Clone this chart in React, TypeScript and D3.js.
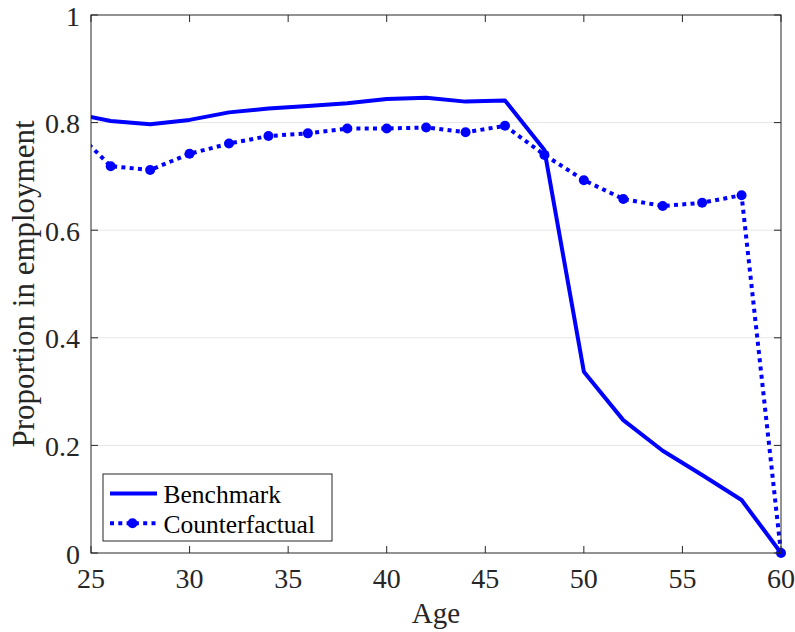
import React from 'react'
import * as d3 from 'd3'

const width = 795
const height = 632
const margin = { top: 15, right: 14, bottom: 79, left: 91 }
const blue = '#0000ff'
const font = '"Liberation Serif", "Times New Roman", serif'

// ages are every two years; the first point sits just left of the axis and is clipped
const ages = [24, 26, 28, 30, 32, 34, 36, 38, 40, 42, 44, 46, 48, 50, 52, 54, 56, 58, 60]
const benchmark = [0.818, 0.803, 0.797, 0.805, 0.819, 0.826, 0.831, 0.836, 0.844, 0.846, 0.839, 0.841,
  0.749, 0.337, 0.247, 0.19, 0.145, 0.0985, 0]
const counterfactual = [0.792, 0.719, 0.712, 0.742, 0.761, 0.775, 0.78, 0.789, 0.789, 0.791, 0.782, 0.794,
  0.74, 0.693, 0.658, 0.645, 0.651, 0.665, 0]
const xTicks = [25, 30, 35, 40, 45, 50, 55, 60]
const yTicks = [0, 0.2, 0.4, 0.6, 0.8, 1]

export default function App() {
  const w = width - margin.left - margin.right
  const h = height - margin.top - margin.bottom
  const x = d3.scaleLinear().domain([25, 60]).range([0, w])
  const y = d3.scaleLinear().domain([0, 1]).range([h, 0])
  const line = d3.line<number>().x((_, i) => x(ages[i])).y(d => y(d))
  const tick = 7

  return (
    <svg width={width} height={height} style={{ display: 'block', position: 'absolute', left: 0, top: 0 }}>
      <defs>
        <clipPath id="plot">
          <rect x={0} y={-6} width={w + 6} height={h + 12} />
        </clipPath>
      </defs>
      <rect width={width} height={height} fill="#fff" />
      <g transform={`translate(${margin.left},${margin.top})`}>
        {yTicks.filter(t => t > 0 && t < 1).map(t => (
          <line key={t} x1={0} x2={w} y1={y(t)} y2={y(t)} stroke="#e6e6e6" strokeWidth={1} />
        ))}
        <g clipPath="url(#plot)">
          <path d={line(benchmark) ?? ''} fill="none" stroke={blue} strokeWidth={4} strokeLinejoin="round" />
          <path d={line(counterfactual) ?? ''} fill="none" stroke={blue} strokeWidth={4} strokeDasharray="4 4.3" />
          {counterfactual.map((v, i) => ages[i] >= 25 ? (
            <circle key={i} cx={x(ages[i])} cy={y(v)} r={5} fill={blue} />
          ) : null)}
        </g>
        <rect x={0} y={0} width={w} height={h} fill="none" stroke="#262626" strokeWidth={1} />
        {xTicks.map(t => (
          <g key={t}>
            <line x1={x(t)} x2={x(t)} y1={h} y2={h - tick} stroke="#262626" />
            <line x1={x(t)} x2={x(t)} y1={0} y2={tick} stroke="#262626" />
            <text x={x(t)} y={h + 35} textAnchor="middle" fontFamily={font} fontSize={28} fill="#262626">{t}</text>
          </g>
        ))}
        {yTicks.map(t => (
          <g key={t}>
            <line x1={0} x2={tick} y1={y(t)} y2={y(t)} stroke="#262626" />
            <line x1={w} x2={w - tick} y1={y(t)} y2={y(t)} stroke="#262626" />
            <text x={-11} y={y(t) + 10.5} textAnchor="end" fontFamily={font} fontSize={28} fill="#262626">{d3.format('')(t)}</text>
          </g>
        ))}
        <text x={w / 2} y={h + 70} textAnchor="middle" fontFamily={font} fontSize={29} fill="#262626">Age</text>
        <text transform={`translate(${-57},${h / 2}) rotate(-90)`} textAnchor="middle" fontFamily={font} fontSize={31} fill="#262626">
          Proportion in employment
        </text>
        <g transform={`translate(${103 - margin.left},${474 - margin.top})`}>
          <rect x={0} y={0} width={229} height={67} fill="#fff" stroke="#262626" strokeWidth={1} />
          <line x1={7} x2={54} y1={19.5} y2={19.5} stroke={blue} strokeWidth={4} />
          <text x={60.5} y={28.7} fontFamily={font} fontSize={25.5} fill="#000">Benchmark</text>
          <line x1={7} x2={54} y1={49.3} y2={49.3} stroke={blue} strokeWidth={4} strokeDasharray="4 4.3" />
          <circle cx={29.5} cy={49.3} r={5} fill={blue} />
          <text x={60.5} y={58.7} fontFamily={font} fontSize={25.5} fill="#000">Counterfactual</text>
        </g>
      </g>
    </svg>
  )
}
